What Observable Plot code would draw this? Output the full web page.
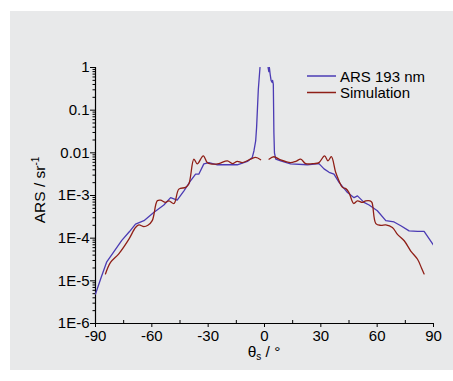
<!DOCTYPE html>
<html>
<head>
<meta charset="utf-8">
<script src="https://cdn.jsdelivr.net/npm/d3@7"></script>
<script src="https://cdn.jsdelivr.net/npm/@observablehq/plot@0.6"></script>
<style>
  html, body { margin: 0; padding: 0; background: #ffffff; }
  #wrap { position: relative; width: 453px; height: 381px; }
  #panel { position: absolute; left: 10px; top: 11px; width: 443px; height: 359px; background: #e8e9ea; }
  #chart { position: absolute; left: 0; top: 0; }
  svg { font-family: "Liberation Sans", Arial, sans-serif; }
</style>
</head>
<body>
<div id="wrap"><div id="panel"></div><div id="chart"></div></div>
<script>
// ---- data ----
const arsTheta = [-90, -87, -84, -80, -76, -72, -68.7, -64.2, -59, -53.6, -50, -46.5, -42.9, -39.4, -36.7, -35, -32.3, -29.6, -25.1, -14.5, -9.1, -6.5, -5.6, -4.7, -4.2, -3.3, -2.4,
  0,
  1.9, 2.3, 2.6, 3.0, 3.5, 4.0, 4.3, 4.7, 5.0, 5.3, 6, 8.6, 13.9, 22.8, 29, 31.7, 34.4, 37, 39.7, 44.2, 47.7, 49.5, 53, 55.7, 60.1, 64.6, 69, 72.6, 77, 81.5, 85, 90];
const arsValue = [4.9e-6, 1.2e-5, 2.8e-5, 5.0e-5, 8.9e-5, 1.41e-4, 2.14e-4, 2.57e-4, 4.0e-4, 6.0e-4, 8.9e-4, 7.8e-4, 1.29e-3, 2.19e-3, 3.16e-3, 3.16e-3, 5.5e-3, 5.9e-3, 5.25e-3, 5.25e-3, 6.3e-3, 7.8e-3, 0.0112, 0.019, 0.04, 0.3, 1.0,
  null,
  1.0, 0.8, 1.0, 0.7, 0.5, 0.45, 0.5, 0.4, 0.03, 0.01, 7.1e-3, 6.5e-3, 5.5e-3, 5.25e-3, 5.6e-3, 4.2e-3, 3.5e-3, 3.16e-3, 2.04e-3, 1.17e-3, 8.9e-4, 9.8e-4, 6.9e-4, 6.0e-4, 4.4e-4, 2.57e-4, 2.4e-4, 1.95e-4, 1.48e-4, 1.45e-4, 1.45e-4, 6.9e-5];

const simTheta = [-84.7, -82, -77.6, -72.2, -68.7, -66.9, -64.2, -62.1, -59.8, -57.1, -55.4, -52.7, -50.9, -48.2, -45.6, -42, -40.3, -37.6, -35.8, -32.6, -30.5, -28.7, -24.3, -19.8, -17.1, -14.5, -11.8, -7.4, -4.7, -2.05,
  0,
  2.4, 5, 8.6, 13.9, 16.6, 19.3, 21.9, 26.4, 29, 32, 33.8, 35.6, 37.9, 39.7, 41.5, 43.3, 45, 47.5, 49.5, 52.1, 53.9, 56.2, 57.2, 59.3, 61.9, 64.6, 68.1, 70.8, 74.4, 77.9, 81.5, 83.6, 85];
const simValue = [1.45e-5, 2.7e-5, 4.3e-5, 9.5e-5, 1.78e-4, 2.04e-4, 1.86e-4, 2.0e-4, 2.57e-4, 7.5e-4, 7.8e-4, 6.9e-4, 7.5e-4, 6.5e-4, 1.41e-3, 1.55e-3, 1.86e-3, 7.1e-3, 5.5e-3, 8.5e-3, 5.9e-3, 5.5e-3, 5.6e-3, 6.5e-3, 5.6e-3, 6.3e-3, 5.9e-3, 7.1e-3, 7.8e-3, 6.9e-3,
  null,
  7.1e-3, 8.1e-3, 6.8e-3, 5.9e-3, 6.3e-3, 7.1e-3, 5.6e-3, 5.6e-3, 5.9e-3, 8.5e-3, 6.5e-3, 8.1e-3, 3.5e-3, 2.19e-3, 1.55e-3, 1.45e-3, 1.17e-3, 6.5e-4, 7.5e-4, 6.9e-4, 7.5e-4, 7.5e-4, 6.9e-4, 2.2e-4, 2.0e-4, 2.04e-4, 1.78e-4, 1.23e-4, 8.7e-5, 5.0e-5, 3.2e-5, 2.0e-5, 1.45e-5];

const xTicks = [-90, -60, -30, 0, 30, 60, 90];
const xMinorTicks = [-75, -45, -15, 15, 45, 75];
const yTicks = [1, 0.1, 0.01, 1e-3, 1e-4, 1e-5, 1e-6];
const yTickLabels = ["1", "0.1", "0.01", "1E-3", "1E-4", "1E-5", "1E-6"];
const seriesNames = ["ARS 193 nm", "Simulation"];
const seriesColors = ["#4b3bb4", "#8f1f17"];

// ---- build tables ----
const ars = arsTheta.map((t, i) => ({theta: t, v: arsValue[i]}));
const sim = simTheta.map((t, i) => ({theta: t, v: simValue[i]}));
const yMinorTicks = [];
for (let e = -6; e < 0; e++) for (let m = 2; m <= 9; m++) yMinorTicks.push(m * Math.pow(10, e));

const plot = Plot.plot({
  width: 453,
  height: 381,
  marginLeft: 95,
  marginRight: 20,
  marginTop: 67,
  marginBottom: 58,
  style: {background: "transparent", fontSize: "15px", fontFamily: "'Liberation Sans', Arial, sans-serif", color: "#000"},
  x: {domain: [-90, 90]},
  y: {type: "log", domain: [1e-6, 1]},
  marks: [
    Plot.axisX({ticks: xTicks, tickSize: 4, tickPadding: 3, tickFormat: d => String(d), label: null}),
    Plot.axisX({ticks: xMinorTicks, tickSize: 3, tickFormat: () => "", label: null, dy: -3}),
    Plot.axisY({ticks: yTicks, tickSize: 5, tickPadding: 1, tickFormat: d => yTickLabels[yTicks.indexOf(d)], label: null}),
    Plot.axisY({ticks: yMinorTicks, tickSize: 2.5, tickFormat: () => "", label: null}),
    Plot.ruleX([-90], {stroke: "#000", strokeWidth: 1.2}),
    Plot.ruleY([1e-6], {stroke: "#000", strokeWidth: 1.2}),
    Plot.line(ars, {x: "theta", y: "v", stroke: seriesColors[0], strokeWidth: 1.3, clip: true}),
    Plot.line(sim, {x: "theta", y: "v", stroke: seriesColors[1], strokeWidth: 1.3, curve: "catmull-rom", clip: true})
  ]
});
document.getElementById("chart").appendChild(plot);

// ---- axis titles and legend as real text ----
const svg = d3.select(plot);
const font = "'Liberation Sans', Arial, sans-serif";
const xl = svg.append("text").attr("x", 264).attr("y", 357).attr("text-anchor", "middle")
  .attr("font-family", font).attr("font-size", 15.5).attr("fill", "#000");
xl.append("tspan").text("θ");
xl.append("tspan").attr("font-size", 10).attr("dy", 3).text("s");
xl.append("tspan").attr("dy", -3).text(" / °");

const yl = svg.append("text").attr("transform", "translate(45,190) rotate(-90)").attr("text-anchor", "middle")
  .attr("font-family", font).attr("font-size", 15.5).attr("fill", "#000");
yl.append("tspan").text("ARS / sr");
yl.append("tspan").attr("font-size", 10).attr("dy", -6).text("-1");

seriesNames.forEach((name, i) => {
  const y = 76 + i * 16.5;
  svg.append("line").attr("x1", 307).attr("x2", 336).attr("y1", y).attr("y2", y)
    .attr("stroke", seriesColors[i]).attr("stroke-width", 1.5);
  svg.append("text").attr("x", 340).attr("y", y + 5.5).attr("text-anchor", "start")
    .attr("font-family", font).attr("font-size", 15)
    .attr("fill", "#000").text(name);
});
</script>
</body>
</html>
